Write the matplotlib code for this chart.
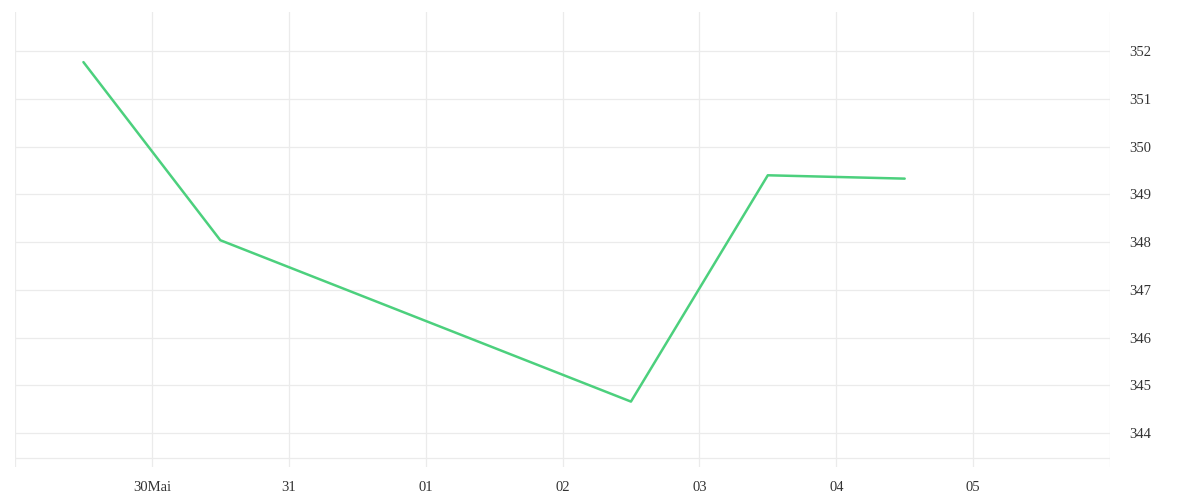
import matplotlib
matplotlib.use("Agg")
import matplotlib.pyplot as plt

# Data (x in days since 29 May 00:00)
x_days = [0.5, 1.5, 4.5, 5.5, 6.5]
values = [351.77, 348.04, 344.66, 349.40, 349.33]
tick_pos = [1, 2, 3, 4, 5, 6, 7]
tick_labels = ["30Mai", "31", "01", "02", "03", "04", "05"]
y_ticks = [344, 345, 346, 347, 348, 349, 350, 351, 352]

grid_c = "#ebebeb"
text_c = "#333333"
line_c = "#4cd07d"

plt.rcParams['font.family'] = ['Liberation Serif', 'DejaVu Serif']

fig = plt.figure(figsize=(12, 5), dpi=100)
ax = fig.add_axes([15/1200, 33/500, (1110-15)/1200, (467-12)/500])

ax.set_xlim(0, 8)
ax.set_ylim(343.29, 352.82)

for xv in range(0, 9):
    ax.axvline(xv, color=grid_c, lw=0.9, zorder=1)
for yv in y_ticks:
    ax.axhline(yv, color=grid_c, lw=0.9, zorder=1)
ax.axhline(343.48, color=grid_c, lw=0.9, zorder=1)

ax.plot(x_days, values, color=line_c, lw=1.8, zorder=3, solid_capstyle='round')

for s in ax.spines.values():
    s.set_visible(False)

ax.set_xticks(tick_pos)
ax.set_xticklabels(tick_labels)
ax.yaxis.tick_right()
ax.set_yticks(y_ticks)
ax.set_yticklabels([str(v) for v in y_ticks])
ax.tick_params(axis='both', length=0, colors=text_c, labelsize=10.5)
ax.tick_params(axis='x', pad=10)
ax.tick_params(axis='y', pad=14)

fig.savefig("out.png", dpi=100, facecolor="white")
